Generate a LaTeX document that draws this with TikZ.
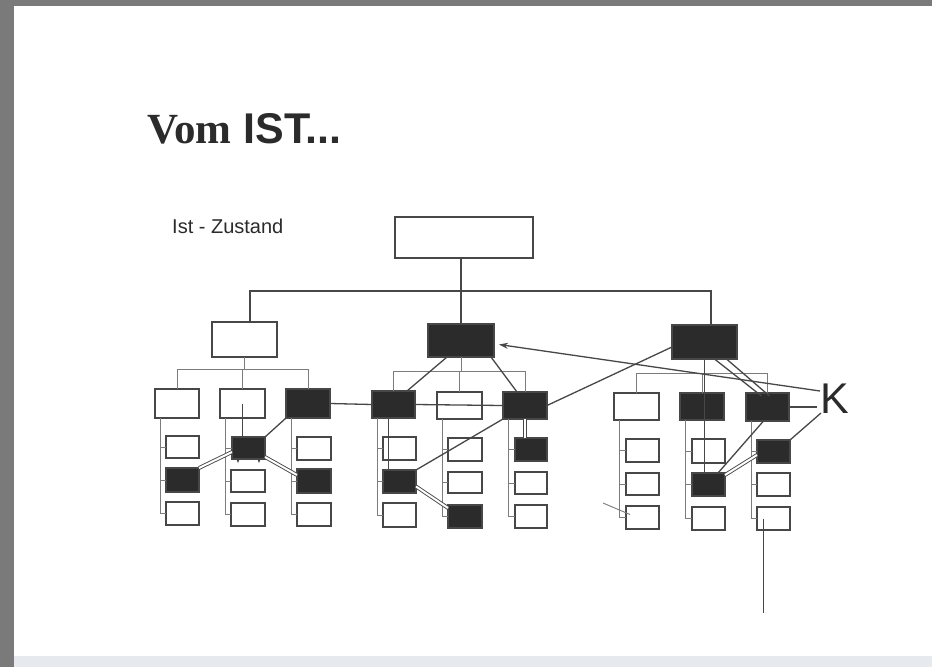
\documentclass[tikz,border=0pt]{standalone}
\usepackage{fontspec}
\setmainfont{Liberation Sans}
\newfontfamily\serifb{Liberation Serif}
\usetikzlibrary{arrows.meta}
\definecolor{ink}{HTML}{2B2B2B}
\definecolor{edge}{HTML}{474747}
\definecolor{thin}{HTML}{7C7C7C}
\definecolor{scan}{HTML}{7A7A7A}
\definecolor{foot}{HTML}{E6EAEE}
\tikzset{
  wbox/.style={draw=edge, line width=1.3pt, fill=white, inner sep=0pt, outer sep=0pt},
  bbox/.style={draw=edge, line width=1.3pt, fill=ink, inner sep=0pt, outer sep=0pt},
  tree/.style={draw=thin, line width=0.9pt},
  topl/.style={draw=edge, line width=1.2pt},
  rel/.style={draw=edge, line width=1.3pt},
  dbl/.style={draw=edge, line width=0.9pt, double=white, double distance=2pt},
  lbl/.style={anchor=base west, inner sep=0pt, text=ink},
}
\newcommand\mybox[6]{\node[#6, minimum width={#4-#2}, minimum height={#5-#3}] (#1) at ({(#2+#4)/2},{(#3+#5)/2}) {};}
\newcommand\kids[4]{%
  \coordinate (v#1) at ([xshift=5pt]#1.south west);
  \draw[tree] (v#1) |- (#4.west);
  \draw[tree] (#2.west) -- (#2.west -| v#1);
  \draw[tree] (#3.west) -- (#3.west -| v#1);}
\begin{document}
\begin{tikzpicture}[x=1pt,y=-1pt]
\path[use as bounding box] (0,0) rectangle (932,667);
\fill[white] (0,0) rectangle (932,667);
\fill[scan] (0,0) rectangle (932,6);
\fill[scan] (0,0) rectangle (14,667);
\fill[foot] (14,656) rectangle (932,667);

% ---- texts
\node[lbl, font=\fontsize{43}{50}\selectfont] (title) at (147,143) {{\serifb\bfseries Vom} {\bfseries IST...}};
\node[lbl, font=\fontsize{20}{24}\selectfont] (sub) at (172,233) {Ist - Zustand};
\node[lbl, font=\fontsize{43}{50}\selectfont] (K) at (820,413) {K};

% ---- level 1 and 2
\mybox{T}{395}{217}{533}{258}{wbox}
\mybox{A}{212}{322}{277}{357}{wbox}
\mybox{B}{428}{324}{494}{357}{bbox}
\mybox{C}{672}{325}{737}{359}{bbox}
% ---- level 3
\mybox{La}{155}{389}{199}{418}{wbox}
\mybox{Lb}{220}{389}{265}{418}{wbox}
\mybox{Lc}{286}{389}{330}{418}{bbox}
\mybox{Ld}{372}{391}{415}{418}{bbox}
\mybox{Le}{437}{392}{482}{419}{wbox}
\mybox{Lf}{503}{392}{547}{419}{bbox}
\mybox{Lg}{614}{393}{659}{420}{wbox}
\mybox{Lh}{680}{393}{724}{420}{bbox}
\mybox{Li}{746}{393}{789}{421}{bbox}
% ---- level 4
\mybox{a1}{166}{436}{199}{458}{wbox}
\mybox{a2}{166}{468}{199}{492}{bbox}
\mybox{a3}{166}{502}{199}{525}{wbox}
\mybox{b1}{232}{437}{265}{459}{bbox}
\mybox{b2}{231}{470}{265}{492}{wbox}
\mybox{b3}{231}{503}{265}{526}{wbox}
\mybox{c1}{297}{437}{331}{460}{wbox}
\mybox{c2}{297}{469}{331}{493}{bbox}
\mybox{c3}{297}{503}{331}{526}{wbox}
\mybox{d1}{383}{437}{416}{460}{wbox}
\mybox{d2}{383}{470}{416}{493}{bbox}
\mybox{d3}{383}{503}{416}{527}{wbox}
\mybox{e1}{448}{438}{482}{461}{wbox}
\mybox{e2}{448}{472}{482}{493}{wbox}
\mybox{e3}{448}{505}{482}{528}{bbox}
\mybox{f1}{515}{438}{547}{461}{bbox}
\mybox{f2}{515}{472}{547}{494}{wbox}
\mybox{f3}{515}{505}{547}{528}{wbox}
\mybox{g1}{626}{439}{659}{462}{wbox}
\mybox{g2}{626}{473}{659}{495}{wbox}
\mybox{g3}{626}{506}{659}{529}{wbox}
\mybox{h1}{692}{439}{725}{463}{wbox}
\mybox{h2}{692}{473}{725}{496}{bbox}
\mybox{h3}{692}{507}{725}{530}{wbox}
\mybox{i1}{757}{440}{790}{463}{bbox}
\mybox{i2}{757}{473}{790}{496}{wbox}
\mybox{i3}{757}{507}{790}{530}{wbox}

% ---- hierarchy connectors
\coordinate (busL) at (250,291);
\coordinate (busR) at (711,291);
\draw[topl] (busL |- A.north) -- (busL) -- (busR) -- (busR |- C.north);
\draw[topl] (B.north |- T.south) -- (B.north);

\coordinate (bya) at (0,369);
\coordinate (byb) at (0,371);
\coordinate (byc) at (0,373);
\draw[tree] (A.south) -- (A.south |- bya);
\draw[tree] (La.north) |- (Lc.north |- bya) -- (Lc.north);
\draw[tree] (Lb.north) -- (Lb.north |- bya);
\draw[tree] (B.south) -- (B.south |- byb);
\draw[tree] (Ld.north) |- (Lf.north |- byb) -- (Lf.north);
\draw[tree] (Le.north) -- (Le.north |- byb);
\draw[tree] (Lg.north) |- (Li.north |- byc) -- (Li.north);
\draw[tree] (Lh.north) -- (Lh.north |- byc);

\kids{La}{a1}{a2}{a3}
\kids{Lb}{b1}{b2}{b3}
\kids{Lc}{c1}{c2}{c3}
\kids{Ld}{d1}{d2}{d3}
\kids{Le}{e1}{e2}{e3}
\kids{Lf}{f1}{f2}{f3}
\kids{Lg}{g1}{g2}{g3}
\kids{Lh}{h1}{h2}{h3}
\kids{Li}{i1}{i2}{i3}

% ---- relation lines
\draw[rel] (Lc.east) -- (Ld.west);
\draw[rel] (Ld.east) -- (Lf.west);
\draw[rel] (Lb.center) -- (Lb.center |- b1.north);
\draw[rel] (Lc.south west) -- (b1.north east);
\draw[dbl] ([yshift=-4pt]b1.west) -- (a2.north east);
\draw[dbl] ([yshift=2pt]b1.south east) -- ([yshift=-6pt]c2.north west);
\fill[edge] (236,458) -- (240,458) -- (238,463) -- cycle;
\fill[edge] (257,458) -- (261,458) -- (259,463) -- cycle;

\draw[rel] ([xshift=19pt]B.south west) -- ([xshift=-8pt]Ld.north east);
\draw[rel] ([xshift=-3pt]B.south east) -- ([xshift=14pt]Lf.north west);
\draw[rel] ([xshift=-5pt]Ld.south) -- ([xshift=-5pt]Ld.south |- d2.north);
\draw[rel] (Lf.south west) -- (d2.north east);
\draw[dbl] ([yshift=-5pt]d2.east) -- ([yshift=-3pt]e3.north west);
\draw[dbl] (Lf.south) -- (Lf.south |- f1.north);
\draw[rel] (Lf.east) -- ([yshift=-5pt]C.west);

\coordinate (k1) at (820,391);
\coordinate (k2) at (817,407);
\coordinate (k3) at (821,413);
\draw[rel, -{Stealth[length=9pt,width=6pt]}] (k1) -- ([xshift=5pt,yshift=-4pt]B.east);
\draw[rel] (Li.east) -- (k2);
\draw[rel] (k3) -- (i1.north east);

\draw[rel] ([xshift=10pt]C.south) -- ([xshift=-6pt,yshift=-3pt]Li.north);
\draw[rel] ([xshift=22pt]C.south) -- ([xshift=2pt,yshift=-3pt]Li.north);
\draw[rel] (C.south) -- (C.south |- h2.north);
\draw[rel] ([xshift=-7pt]h2.north east) -- ([xshift=-4pt]Li.south);
\draw[dbl] ([yshift=-2pt]h2.north east) -- ([yshift=-3.5pt]i1.west);

\coordinate (iend) at (763,613);
\draw[rel, line width=1pt] ([xshift=6pt]i3.west) -- (iend);
\coordinate (mk) at (603,503);
\draw[tree] (mk) -- ([xshift=4pt,yshift=3pt]g3.west);
\end{tikzpicture}
\end{document}
